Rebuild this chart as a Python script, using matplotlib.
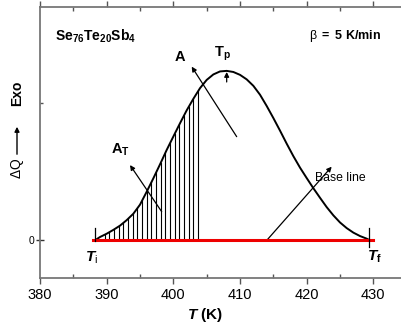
import matplotlib
matplotlib.use("Agg")
import matplotlib.pyplot as plt
from matplotlib.ticker import MultipleLocator, FixedLocator

plt.rcParams['font.family'] = ['Liberation Sans', 'DejaVu Sans']
plt.rcParams['mathtext.fontset'] = 'custom'
plt.rcParams['mathtext.rm'] = 'Liberation Sans'
plt.rcParams['mathtext.it'] = 'Liberation Sans:italic'
plt.rcParams['mathtext.bf'] = 'Liberation Sans:bold'
plt.rcParams['mathtext.bfit'] = 'Liberation Sans:bold:italic'

# DSC exotherm (arbitrary units) vs temperature
temperature = [388.3, 389, 390, 391, 392, 393, 394, 395, 396, 397, 398, 399,
               400, 401, 402, 403, 404, 405, 406, 407, 408, 409, 410, 411,
               412, 413, 414, 415, 416, 417, 418, 419, 420, 421, 422, 423,
               424, 425, 426, 427, 428, 429, 429.4]
heat_flow = [0.0, 0.022, 0.046, 0.074, 0.105, 0.145, 0.192, 0.258, 0.352,
             0.45, 0.552, 0.657, 0.755, 0.852, 0.946, 1.03, 1.108, 1.168,
             1.208, 1.23, 1.234, 1.226, 1.205, 1.172, 1.125, 1.06, 0.978,
             0.89, 0.798, 0.703, 0.612, 0.528, 0.452, 0.378, 0.308, 0.240,
             0.180, 0.128, 0.087, 0.054, 0.029, 0.01, 0.0]

# temperatures of the hatching lines (partial area A_T)
hatch_temps = [389.7, 390.4, 391.1, 391.8, 392.5, 393.2, 393.9, 394.6, 395.3,
               396.0, 396.7, 397.4, 398.1, 398.8, 399.5, 400.2, 400.9, 401.6,
               402.3, 403.0, 403.7]

T_i = 388.3
T_f = 429.4
T_p = 408.0
baseline_span = [387.9, 429.9]

W, H = 401, 332
fig = plt.figure(figsize=(W / 100, H / 100), dpi=100)
ax = fig.add_axes([40 / W, 1 - 278 / H, 366.7 / W, 271 / H])

ax.set_xlim(380, 435)
ax.set_ylim(-0.277, 1.70)

# hatching under the curve up to T
for t in hatch_temps:
    yv = 0.0
    for k in range(len(temperature) - 1):
        if temperature[k] <= t <= temperature[k + 1]:
            f = (t - temperature[k]) / (temperature[k + 1] - temperature[k])
            yv = heat_flow[k] + f * (heat_flow[k + 1] - heat_flow[k])
            break
    ax.plot([t, t], [0, yv], color='black', lw=0.8, zorder=2)

ax.plot(temperature, heat_flow, color='black', lw=1.4, zorder=3)
ax.plot(baseline_span, [0, 0], color='#ee0000', lw=2.2, zorder=4)

# start / end markers
ax.plot([T_i, T_i], [-0.01, 0.09], color='black', lw=0.9, zorder=5)
ax.plot([T_f, T_f], [-0.05, 0.09], color='black', lw=0.9, zorder=5)

arrow_kw = dict(arrowstyle='-|>', color='black', lw=0.9,
                mutation_scale=7, shrinkA=0, shrinkB=0)
ax.annotate('', xy=(402.75, 1.265), xytext=(409.5, 0.754), arrowprops=arrow_kw)
ax.annotate('', xy=(393.5, 0.547), xytext=(398.25, 0.207), arrowprops=arrow_kw)
ax.annotate('', xy=(T_p, 1.226), xytext=(T_p, 1.153), arrowprops=arrow_kw)
ax.annotate('', xy=(423.75, 0.535), xytext=(414.05, 0.0), arrowprops=arrow_kw)

ax.text(401.0, 1.336, r'$\mathbf{A}$', fontsize=10.5, ha='center', va='center')
ax.text(407.4, 1.36, r'$\mathbf{T_p}$', fontsize=10.5, ha='center', va='center')
ax.text(392.0, 0.655, r'$\mathbf{A_{T}}$', fontsize=10.5, ha='center', va='center')
ax.text(421.2, 0.455, 'Base line', fontsize=8.8, ha='left', va='center')
ax.text(T_i - 0.5, -0.13, r'$\mathbfit{T}_{\mathrm{i}}$', fontsize=11,
        ha='center', va='center')
ax.text(T_f + 0.7, -0.12, r'$\mathbfit{T}_{\mathbf{f}}$', fontsize=11,
        ha='center', va='center')
ax.text(382.3, 1.485, r'$\mathbf{Se_{76}Te_{20}Sb_{4}}$', fontsize=10,
        ha='left', va='center')
ax.text(420.4, 1.49, r'$\mathrm{\beta}\ \mathbf{=\ 5\ K/min}$', fontsize=9,
        ha='left', va='center')

# axes styling
for side in ('left', 'bottom', 'top', 'right'):
    ax.spines[side].set_color('#777777')
    ax.spines[side].set_linewidth(1.3)

ax.xaxis.set_major_locator(MultipleLocator(10))
ax.xaxis.set_minor_locator(MultipleLocator(5))
ax.yaxis.set_major_locator(FixedLocator([0]))
ax.yaxis.set_minor_locator(FixedLocator([1]))
ax.tick_params(axis='x', which='major', direction='out', length=4, width=1,
               color='#555555', labelsize=10.5, pad=3)
ax.tick_params(axis='x', which='minor', direction='in', length=3, width=1,
               color='#555555')
ax.tick_params(axis='x', which='both', top=True)
ax.tick_params(axis='y', which='major', direction='inout', length=6, width=1,
               color='#333333', labelsize=7.5, pad=1)
ax.tick_params(axis='y', which='minor', direction='in', length=2, width=1,
               color='#555555')

# axis titles
fig.text(205 / W, 1 - 315 / H, r'$\mathbfit{T}$ $\mathbf{(K)}$', fontsize=11,
         ha='center', va='center')
fig.text(17 / W, 1 - 168 / H, r'$\Delta$Q', fontsize=10, rotation=90,
         ha='center', va='center')
fig.text(17 / W, 1 - 93 / H, 'Exo', fontsize=10, fontweight='bold',
         rotation=90, ha='center', va='center')
fig.add_artist(matplotlib.patches.FancyArrowPatch(
    (17 / W, 1 - 157 / H), (17 / W, 1 - 124 / H), transform=fig.transFigure,
    arrowstyle='-|>', mutation_scale=7, color='black', lw=1.0))

fig.savefig('out.png', dpi=100)
